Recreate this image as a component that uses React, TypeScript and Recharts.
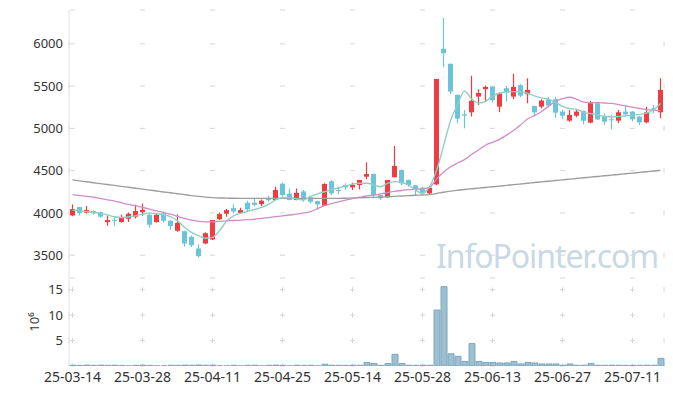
import { Bar, CartesianGrid, ComposedChart, Line, XAxis, YAxis } from 'recharts';

// trading days shown on the chart
const dates = [
  '25-03-14', '25-03-17', '25-03-18', '25-03-19', '25-03-20', '25-03-21', '25-03-24', '25-03-25', '25-03-26', '25-03-27',
  '25-03-28', '25-03-31', '25-04-01', '25-04-02', '25-04-03', '25-04-04', '25-04-07', '25-04-08', '25-04-09', '25-04-10',
  '25-04-11', '25-04-14', '25-04-15', '25-04-16', '25-04-17', '25-04-18', '25-04-21', '25-04-22', '25-04-23', '25-04-24',
  '25-04-25', '25-04-28', '25-04-29', '25-04-30', '25-05-02', '25-05-07', '25-05-08', '25-05-09', '25-05-12', '25-05-13',
  '25-05-14', '25-05-15', '25-05-16', '25-05-19', '25-05-20', '25-05-21', '25-05-22', '25-05-23', '25-05-26', '25-05-27',
  '25-05-28', '25-05-29', '25-05-30', '25-06-02', '25-06-04', '25-06-05', '25-06-09', '25-06-10', '25-06-11', '25-06-12',
  '25-06-13', '25-06-16', '25-06-17', '25-06-18', '25-06-19', '25-06-20', '25-06-23', '25-06-24', '25-06-25', '25-06-26',
  '25-06-27', '25-06-30', '25-07-01', '25-07-02', '25-07-03', '25-07-04', '25-07-07', '25-07-08', '25-07-09', '25-07-10',
  '25-07-11', '25-07-14', '25-07-15', '25-07-16', '25-07-17',
];

const tickLabels = ['25-03-14', '25-03-28', '25-04-11', '25-04-25', '25-05-14', '25-05-28', '25-06-13', '25-06-27', '25-07-11'];
const priceTicks = [3500, 4000, 4500, 5000, 5500, 6000];
const volumeTicks = [5, 10, 15];

const opens = [
  3970, 4069, 4002, 4022, 4010, 3891, 3915, 3891, 3931, 3954,
  4010, 3978, 3891, 3994, 3907, 3789, 3784, 3717, 3579, 3638,
  3685, 3926, 3990, 4057, 4001, 4120, 4120, 4104, 4171, 4152,
  4345, 4227, 4152, 4254, 4184, 4140, 4085, 4373, 4270, 4330,
  4302, 4330, 4428, 4460, 4211, 4184, 4421, 4507, 4389, 4326,
  4298, 4231, 4337, 5941, 5763, 5396, 5166, 5190, 5376, 5463,
  5490, 5257, 5475, 5376, 5510, 5404, 5265, 5257, 5344, 5344,
  5198, 5091, 5150, 5206, 5067, 5297, 5139, 5107, 5091, 5198,
  5198, 5139, 5071, 5238, 5190,
];
const highs = [
  4100, 4073, 4081, 4030, 4015, 3962, 3962, 3978, 4006, 4097,
  4112, 4002, 4002, 4014, 3915, 3982, 3790, 3733, 3630, 3772,
  3915, 4005, 4045, 4100, 4061, 4144, 4163, 4160, 4203, 4310,
  4357, 4290, 4290, 4270, 4200, 4145, 4350, 4389, 4310, 4350,
  4357, 4389, 4598, 4465, 4215, 4389, 4792, 4515, 4395, 4334,
  4310, 4300, 5585, 6304, 5770, 5400, 5218, 5621, 5463, 5506,
  5502, 5423, 5502, 5645, 5526, 5593, 5270, 5344, 5370, 5375,
  5218, 5218, 5218, 5210, 5324, 5308, 5178, 5158, 5218, 5265,
  5205, 5145, 5257, 5277, 5593,
];
const lows = [
  3960, 3970, 3994, 3982, 3943, 3848, 3848, 3885, 3891, 3935,
  3966, 3824, 3885, 3887, 3797, 3777, 3600, 3598, 3472, 3630,
  3680, 3915, 3954, 3994, 3998, 4021, 4080, 4080, 4132, 4152,
  4191, 4150, 4150, 4132, 4113, 4041, 4085, 4211, 4223, 4270,
  4270, 4278, 4397, 4172, 4152, 4180, 4421, 4330, 4310, 4200,
  4231, 4211, 4330, 5724, 5404, 5060, 5001, 5139, 5277, 5317,
  5305, 5190, 5317, 5345, 5368, 5297, 5159, 5238, 5250, 5119,
  5107, 5079, 5131, 5048, 5060, 5099, 5040, 4988, 5060, 5139,
  5080, 5040, 5060, 5178, 5119,
];
const closes = [
  4045, 3998, 4033, 3995, 3955, 3915, 3905, 3943, 3990, 4022,
  4037, 3860, 3978, 3907, 3844, 3883, 3638, 3618, 3488, 3760,
  3915, 3986, 4033, 4017, 4033, 4041, 4096, 4144, 4152, 4270,
  4211, 4152, 4238, 4152, 4132, 4101, 4342, 4231, 4259, 4302,
  4330, 4389, 4460, 4211, 4172, 4389, 4555, 4350, 4330, 4278,
  4239, 4298, 5585, 5890, 5435, 5115, 5151, 5325, 5419, 5490,
  5333, 5415, 5431, 5490, 5388, 5455, 5190, 5329, 5269, 5186,
  5150, 5158, 5198, 5091, 5297, 5105, 5079, 5095, 5190, 5166,
  5107, 5071, 5190, 5230, 5455,
];

// volume, millions of shares
const volumes = [
  0.15, 0.12, 0.18, 0.14, 0.16, 0.13, 0.15, 0.12, 0.02, 0.14,
  0.17, 0.13, 0.02, 0.02, 0.15, 0.14, 0.18, 0.16, 0.2, 0.15,
  0.17, 0.02, 0.02, 0.15, 0.02, 0.14, 0.16, 0.02, 0.15, 0.18,
  0.14, 0.02, 0.16, 0.13, 0.15, 0.02, 0.35, 0.15, 0.14, 0.13,
  0.16, 0.15, 0.7, 0.5, 0.12, 0.5, 2.3, 0.5, 0.15, 0.14,
  0.16, 0.15, 11.0, 15.6, 2.4, 1.9, 0.9, 4.4, 0.9, 0.7,
  0.7, 0.6, 0.6, 0.9, 0.4, 0.7, 0.6, 0.4, 0.4, 0.4,
  0.15, 0.4, 0.15, 0.15, 0.5, 0.15, 0.14, 0.16, 0.15, 0.13,
  0.15, 0.14, 0.16, 0.15, 1.5,
];

// moving averages
const ma5 = [
  4033, 4025, 4015, 4005, 3995, 3975, 3955, 3945, 3955, 3965,
  3985, 4000, 3990, 3980, 3955, 3905, 3830, 3770, 3730, 3700,
  3710, 3790, 3900, 3965, 3995, 4020, 4040, 4065, 4100, 4155,
  4180, 4180, 4165, 4155, 4195, 4225, 4250, 4275, 4295, 4320,
  4340, 4350, 4350, 4335, 4310, 4350, 4370, 4360, 4330, 4270,
  4230, 4310, 4500, 4790, 5090, 5280, 5440, 5350, 5300, 5320,
  5380, 5415, 5430, 5435, 5430, 5415, 5385, 5360, 5345, 5305,
  5260, 5235, 5225, 5190, 5175, 5160, 5140, 5135, 5140, 5150,
  5155, 5165, 5180, 5220, 5295,
];
const ma20 = [
  4215, 4205, 4195, 4185, 4170, 4155, 4140, 4120, 4100, 4085,
  4065, 4045, 4025, 4005, 3985, 3960, 3935, 3915, 3900, 3895,
  3895, 3900, 3905, 3910, 3915, 3920, 3925, 3935, 3945, 3955,
  3965, 3975, 3985, 4000, 4015, 4050, 4085, 4110, 4130, 4150,
  4170, 4185, 4200, 4210, 4225, 4240, 4255, 4265, 4275, 4280,
  4285, 4300, 4400, 4480, 4545, 4590, 4630, 4690, 4745, 4800,
  4835, 4870, 4920, 4975, 5040, 5110, 5150, 5200, 5260, 5320,
  5350, 5368, 5345, 5310, 5305, 5305, 5300, 5295, 5280, 5265,
  5250, 5235, 5222, 5215, 5210,
];
const ma120 = [
  4390, 4379, 4368, 4357, 4346, 4336, 4325, 4314, 4303, 4292,
  4281, 4270, 4259, 4248, 4238, 4227, 4216, 4205, 4195, 4187,
  4181, 4177, 4175, 4173, 4172, 4172, 4172, 4172, 4172, 4172,
  4172, 4172, 4172, 4172, 4172, 4172, 4172, 4172, 4172, 4174,
  4176, 4178, 4181, 4184, 4188, 4192, 4196, 4200, 4204, 4208,
  4212, 4216, 4230, 4245, 4258, 4268, 4277, 4285, 4293, 4301,
  4309, 4317, 4325, 4334, 4342, 4350, 4359, 4367, 4375, 4383,
  4391, 4399, 4407, 4415, 4423, 4431, 4439, 4447, 4455, 4463,
  4471, 4479, 4487, 4495, 4503,
];

const rows = dates.map((date, i) => ({
  date,
  open: opens[i],
  high: highs[i],
  low: lows[i],
  close: closes[i],
  volume: volumes[i],
  ma5: ma5[i],
  ma20: ma20[i],
  ma120: ma120[i],
}));

const UP = '#f03b40';
const DOWN = '#6cc4da';
const BORDER = '#e2e2e2';
const GRID = '#d6d6d6';
const FONT = "'Noto Sans', sans-serif";

const W = 673;
const PRICE_H = 278;
const PRICE_TOP = 10;
const PRICE_DOMAIN = [3230, 6400];
const VOL_H = 118;
const VOL_AXIS_H = 30;
const VOL_DOMAIN = [0, 17.3];
const LEFT = 69;
const RIGHT = 9;

// grid shows up as small "+" marks where ticks cross: dashes lined up on ticks
const xPeriod = ((W - LEFT - RIGHT) / dates.length) * 10;
const priceInner = PRICE_H - PRICE_TOP;
const pricePeriod = (500 * priceInner) / (PRICE_DOMAIN[1] - PRICE_DOMAIN[0]);
const priceFirst = ((PRICE_DOMAIN[1] - 6000) * priceInner) / (PRICE_DOMAIN[1] - PRICE_DOMAIN[0]);
const volInner = VOL_H - VOL_AXIS_H;
const volPeriod = (5 * volInner) / (VOL_DOMAIN[1] - VOL_DOMAIN[0]);
const volFirst = ((VOL_DOMAIN[1] - 15) * volInner) / (VOL_DOMAIN[1] - VOL_DOMAIN[0]);

const hMarks = (p: any) => (
  <line
    key={p.key}
    x1={p.x1}
    y1={p.y1}
    x2={p.x2}
    y2={p.y2}
    stroke={GRID}
    strokeDasharray={`5 ${xPeriod - 5}`}
    strokeDashoffset={xPeriod - (xPeriod / 20 - 2.5)}
  />
);
const vMarks = (period: number, first: number) => (p: any) => (
  <line
    key={p.key}
    x1={p.x1}
    y1={p.y1}
    x2={p.x2}
    y2={p.y2}
    stroke={GRID}
    strokeDasharray={`5 ${period - 5}`}
    strokeDashoffset={period - (first - 2.5)}
  />
);

function Candle(props: any) {
  const { x, y, width, height, payload } = props;
  if (!payload || width == null) return null;
  const { open, close, high, low } = payload;
  const top = Math.min(y, y + height);
  const h = Math.abs(height);
  const k = h / (high - low || 1);
  const yOf = (v: number) => top + (high - v) * k;
  const color = close >= open ? UP : DOWN;
  const cx = x + width / 2;
  const bodyTop = yOf(Math.max(open, close));
  const bodyH = Math.max(1, Math.abs(yOf(open) - yOf(close)));
  return (
    <g>
      <line x1={cx} x2={cx} y1={top} y2={top + h} stroke={color} strokeWidth={1.2} />
      <rect x={x} y={bodyTop} width={width} height={bodyH} fill={color} />
    </g>
  );
}

const tickStyle = { fontSize: 13, fill: '#333', fontFamily: FONT };

export default function App() {
  return (
    <div style={{ position: 'absolute', left: 0, top: 0, width: W, height: 396, background: '#fff', fontFamily: FONT }}>
      <div style={{ position: 'absolute', left: 0, top: 0 }}>
        <ComposedChart
          width={W}
          height={PRICE_H}
          data={rows}
          margin={{ top: PRICE_TOP, right: RIGHT, bottom: 0, left: 0 }}
          barSize={5}
        >
          <CartesianGrid vertical={false} horizontal={hMarks} />
          <CartesianGrid horizontal={false} vertical={vMarks(pricePeriod, priceFirst)} />
          <XAxis
            dataKey="date"
            ticks={tickLabels}
            interval={0}
            height={0}
            tick={false}
            tickLine={false}
            axisLine={{ stroke: BORDER }}
          />
          <XAxis xAxisId="top" dataKey="date" orientation="top" height={0} tick={false} tickLine={false} axisLine={{ stroke: BORDER }} />
          <YAxis
            domain={PRICE_DOMAIN}
            ticks={priceTicks}
            allowDataOverflow
            width={LEFT}
            tickLine={false}
            tickMargin={0}
            tick={tickStyle}
            axisLine={{ stroke: BORDER }}
          />
          <YAxis yAxisId="right" orientation="right" width={0} tick={false} tickLine={false} axisLine={{ stroke: BORDER }} />
          <Bar dataKey={(d: any) => [d.low, d.high]} shape={Candle} isAnimationActive={false} />
          <Line type="monotone" dataKey="ma120" stroke="#9d9d9d" strokeWidth={1.4} dot={false} isAnimationActive={false} />
          <Line type="monotone" dataKey="ma20" stroke="#d08cc6" strokeWidth={1.3} dot={false} isAnimationActive={false} />
          <Line type="monotone" dataKey="ma5" stroke="#8ecfc4" strokeWidth={1.4} dot={false} isAnimationActive={false} />
        </ComposedChart>
        <div
          style={{
            position: 'absolute',
            left: 436,
            top: 234,
            fontSize: 32,
            color: '#c9d9e4',
            letterSpacing: -1.1,
            whiteSpace: 'nowrap',
            fontFamily: FONT,
          }}
        >
          InfoPointer.com
        </div>
      </div>
      <div style={{ position: 'absolute', left: 0, top: PRICE_H }}>
        <ComposedChart
          width={W}
          height={VOL_H}
          data={rows}
          margin={{ top: 0, right: RIGHT, bottom: 0, left: 0 }}
          barCategoryGap={0}
          barSize={6}
        >
          <CartesianGrid vertical={false} horizontal={hMarks} />
          <CartesianGrid horizontal={false} vertical={vMarks(volPeriod, volFirst)} />
          <XAxis
            dataKey="date"
            ticks={tickLabels}
            interval={0}
            height={VOL_AXIS_H}
            tickLine={false}
            axisLine={false}
            tickMargin={0}
            tick={{ ...tickStyle, fontSize: 14 }}
          />
          <YAxis
            domain={VOL_DOMAIN}
            ticks={volumeTicks}
            allowDataOverflow
            width={LEFT}
            tickLine={false}
            tickMargin={0}
            tick={tickStyle}
            axisLine={{ stroke: BORDER }}
            label={{ value: '10⁶', angle: -90, position: 'center', dx: 0, fontSize: 13, fill: '#333' }}
          />
          <Bar dataKey="volume" fill="#9cc0d1" stroke="#7ea6ba" strokeWidth={1} isAnimationActive={false} />
        </ComposedChart>
      </div>
    </div>
  );
}
